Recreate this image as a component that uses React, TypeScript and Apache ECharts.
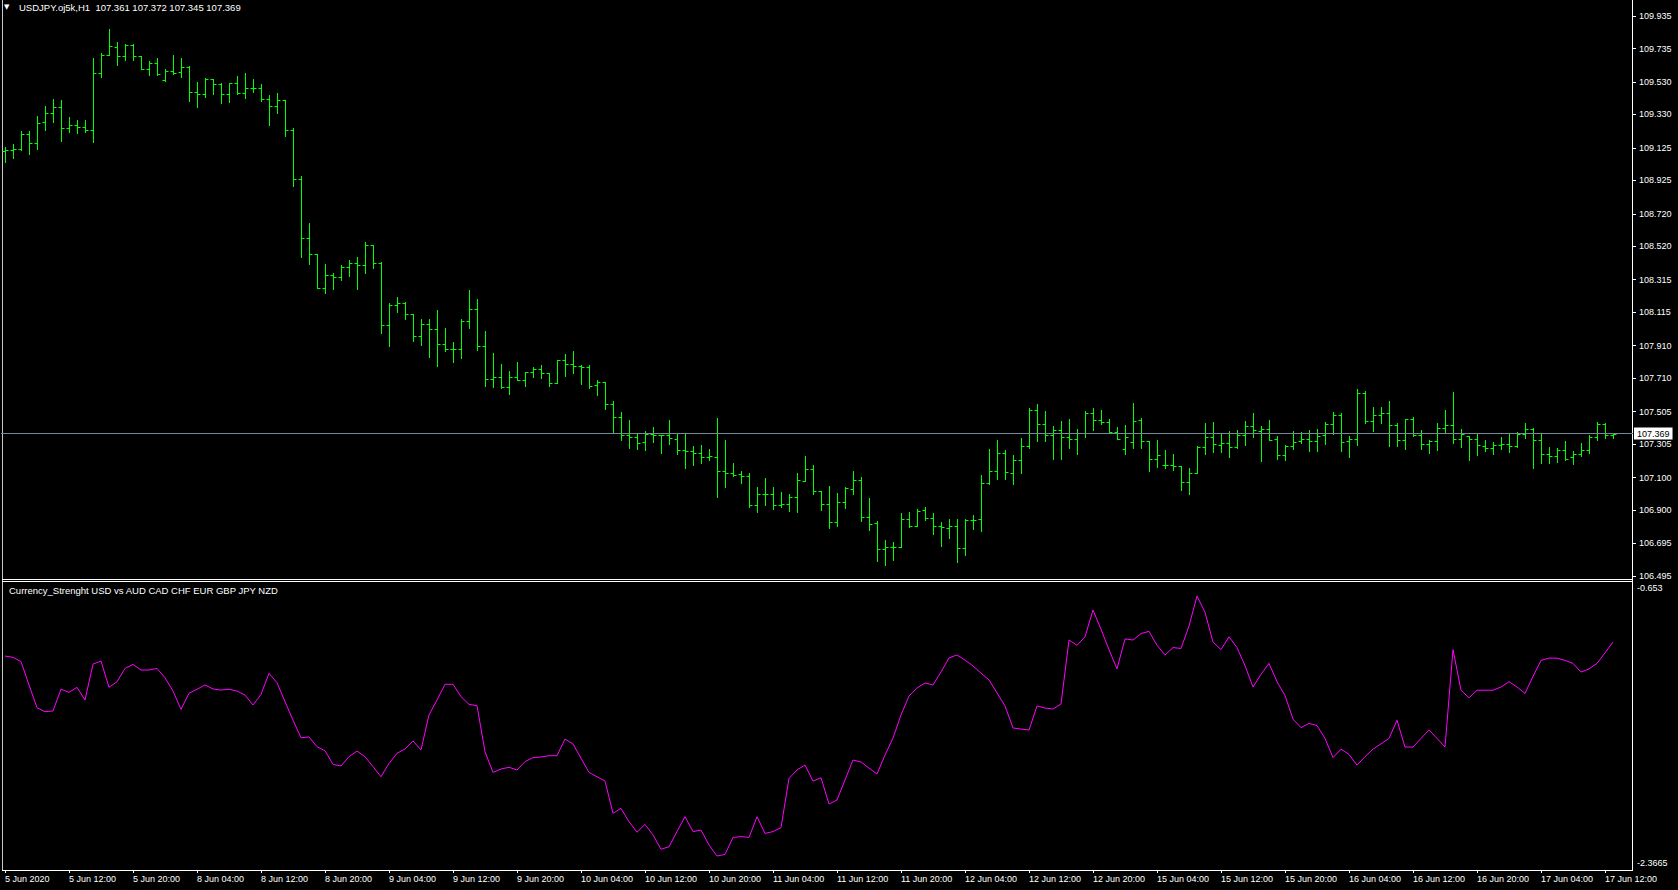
import React, { useEffect, useRef } from "react";
import * as echarts from "echarts";

const SYMBOL_TITLE = "USDJPY.oj5k,H1  107.361 107.372 107.345 107.369";
const INDICATOR_TITLE = "Currency_Strenght USD vs AUD CAD CHF EUR GBP JPY NZD";
const START_TIME = Date.UTC(2020, 5, 5, 4);
const SLOT_COUNT = 204;
const CURRENT_PRICE = 107.369;

const OPEN = [
  109.108, 109.112, 109.116, 109.210, 109.153, 109.282, 109.337, 109.374, 109.245, 109.263,
  109.251, 109.233, 109.583, 109.695, 109.742, 109.687, 109.757, 109.687, 109.612, 109.644,
  109.540, 109.599, 109.589, 109.622, 109.468, 109.456, 109.548, 109.515, 109.456, 109.523,
  109.460, 109.491, 109.491, 109.423, 109.384, 109.417, 109.235, 108.932, 108.569, 108.471,
  108.266, 108.342, 108.330, 108.391, 108.416, 108.403, 108.526, 108.420, 108.037, 108.158,
  108.174, 108.105, 107.967, 108.043, 108.010, 107.918, 107.888, 107.888, 108.060, 108.133,
  107.910, 107.703, 107.716, 107.658, 107.716, 107.697, 107.746, 107.767, 107.740, 107.679,
  107.822, 107.795, 107.783, 107.779, 107.666, 107.687, 107.550, 107.472, 107.361, 107.347,
  107.316, 107.370, 107.359, 107.359, 107.335, 107.267, 107.261, 107.251, 107.224, 107.224,
  107.138, 107.126, 107.120, 107.107, 106.929, 106.997, 106.997, 106.929, 106.935, 106.981,
  107.077, 107.152, 107.015, 106.935, 106.825, 106.948, 107.028, 107.083, 106.856, 106.819,
  106.659, 106.671, 106.671, 106.843, 106.802, 106.898, 106.851, 106.802, 106.790, 106.802,
  106.665, 106.837, 106.843, 107.064, 107.140, 107.251, 107.126, 107.206, 107.292, 107.513,
  107.429, 107.361, 107.392, 107.347, 107.335, 107.372, 107.494, 107.451, 107.439, 107.378,
  107.273, 107.316, 107.451, 107.322, 107.212, 107.179, 107.175, 107.171, 107.071, 107.126,
  107.286, 107.347, 107.298, 107.310, 107.286, 107.359, 107.415, 107.384, 107.396, 107.335,
  107.236, 107.292, 107.325, 107.335, 107.322, 107.359, 107.429, 107.482, 107.325, 107.335,
  107.617, 107.445, 107.484, 107.494, 107.421, 107.329, 107.460, 107.359, 107.306, 107.322,
  107.402, 107.423, 107.335, 107.355, 107.335, 107.292, 107.279, 107.298, 107.304, 107.292,
  107.368, 107.396, 107.329, 107.243, 107.230, 107.267, 107.224, 107.243, 107.267, 107.347,
  107.429, 107.361,
];

const HIGH = [
  109.132, 109.149, 109.229, 109.229, 109.321, 109.382, 109.425, 109.419, 109.315, 109.296,
  109.296, 109.677, 109.708, 109.855, 109.775, 109.763, 109.763, 109.689, 109.657, 109.677,
  109.607, 109.698, 109.677, 109.626, 109.530, 109.552, 109.548, 109.521, 109.523, 109.566,
  109.585, 109.548, 109.517, 109.448, 109.462, 109.419, 109.245, 108.952, 108.664, 108.471,
  108.412, 108.354, 108.406, 108.436, 108.455, 108.547, 108.526, 108.424, 108.174, 108.209,
  108.176, 108.105, 108.072, 108.072, 108.129, 108.017, 107.933, 108.074, 108.252, 108.197,
  108.000, 107.865, 107.797, 107.754, 107.810, 107.748, 107.777, 107.791, 107.744, 107.822,
  107.859, 107.877, 107.789, 107.791, 107.699, 107.687, 107.570, 107.503, 107.453, 107.365,
  107.386, 107.412, 107.361, 107.453, 107.365, 107.365, 107.294, 107.300, 107.275, 107.466,
  107.331, 107.189, 107.140, 107.128, 107.042, 107.097, 107.042, 107.011, 106.997, 107.128,
  107.232, 107.177, 107.017, 107.048, 107.005, 107.042, 107.142, 107.103, 106.974, 106.831,
  106.716, 106.704, 106.882, 106.888, 106.907, 106.919, 106.882, 106.827, 106.843, 106.847,
  106.843, 106.870, 107.116, 107.277, 107.331, 107.271, 107.238, 107.343, 107.527, 107.552,
  107.509, 107.417, 107.447, 107.460, 107.398, 107.509, 107.527, 107.515, 107.460, 107.408,
  107.421, 107.558, 107.466, 107.322, 107.331, 107.267, 107.245, 107.171, 107.159, 107.292,
  107.437, 107.441, 107.365, 107.384, 107.392, 107.447, 107.496, 107.417, 107.454, 107.355,
  107.298, 107.386, 107.380, 107.392, 107.396, 107.443, 107.503, 107.496, 107.353, 107.644,
  107.634, 107.533, 107.533, 107.570, 107.435, 107.460, 107.472, 107.392, 107.329, 107.435,
  107.515, 107.626, 107.398, 107.355, 107.365, 107.331, 107.318, 107.349, 107.365, 107.380,
  107.435, 107.402, 107.374, 107.286, 107.279, 107.325, 107.263, 107.312, 107.359, 107.441,
  107.433, 107.372,
];

const LOW = [
  109.040, 109.065, 109.112, 109.087, 109.120, 109.235, 109.286, 109.169, 109.225, 109.218,
  109.225, 109.163, 109.562, 109.695, 109.636, 109.665, 109.665, 109.607, 109.575, 109.575,
  109.538, 109.579, 109.562, 109.415, 109.378, 109.440, 109.458, 109.403, 109.409, 109.456,
  109.433, 109.468, 109.411, 109.268, 109.337, 109.200, 108.893, 108.457, 108.410, 108.262,
  108.231, 108.256, 108.313, 108.340, 108.256, 108.354, 108.385, 107.986, 107.910, 108.119,
  108.072, 107.941, 107.916, 107.842, 107.787, 107.875, 107.812, 107.836, 108.021, 107.885,
  107.664, 107.658, 107.648, 107.615, 107.697, 107.664, 107.720, 107.709, 107.664, 107.679,
  107.726, 107.744, 107.677, 107.652, 107.609, 107.523, 107.382, 107.333, 107.283, 107.277,
  107.271, 107.320, 107.253, 107.308, 107.247, 107.161, 107.179, 107.191, 107.210, 106.983,
  107.044, 107.112, 107.069, 106.917, 106.890, 106.933, 106.909, 106.919, 106.892, 106.890,
  107.077, 107.001, 106.903, 106.792, 106.800, 106.915, 107.001, 106.835, 106.780, 106.589,
  106.565, 106.596, 106.671, 106.794, 106.800, 106.841, 106.755, 106.682, 106.731, 106.583,
  106.626, 106.786, 106.774, 107.062, 107.093, 107.093, 107.062, 107.130, 107.281, 107.326,
  107.326, 107.216, 107.212, 107.283, 107.247, 107.351, 107.394, 107.427, 107.378, 107.335,
  107.247, 107.283, 107.283, 107.142, 107.165, 107.157, 107.144, 107.026, 106.997, 107.126,
  107.247, 107.255, 107.255, 107.228, 107.279, 107.302, 107.351, 107.204, 107.329, 107.216,
  107.210, 107.277, 107.314, 107.265, 107.265, 107.308, 107.368, 107.265, 107.228, 107.302,
  107.433, 107.388, 107.437, 107.296, 107.296, 107.277, 107.353, 107.277, 107.253, 107.269,
  107.372, 107.314, 107.290, 107.210, 107.241, 107.265, 107.247, 107.277, 107.259, 107.290,
  107.345, 107.161, 107.191, 107.191, 107.198, 107.210, 107.185, 107.234, 107.253, 107.333,
  107.341, 107.345,
];

const CLOSE = [
  109.112, 109.118, 109.210, 109.153, 109.276, 109.337, 109.374, 109.245, 109.263, 109.255,
  109.233, 109.583, 109.695, 109.749, 109.687, 109.757, 109.687, 109.612, 109.644, 109.579,
  109.599, 109.587, 109.620, 109.468, 109.456, 109.548, 109.515, 109.456, 109.521, 109.460,
  109.491, 109.491, 109.423, 109.384, 109.419, 109.235, 108.932, 108.569, 108.471, 108.266,
  108.342, 108.330, 108.395, 108.416, 108.403, 108.526, 108.420, 108.037, 108.158, 108.170,
  108.103, 107.967, 108.043, 108.010, 107.918, 107.888, 107.892, 108.060, 108.133, 107.910,
  107.703, 107.716, 107.658, 107.716, 107.697, 107.746, 107.767, 107.740, 107.683, 107.822,
  107.795, 107.783, 107.779, 107.664, 107.687, 107.550, 107.472, 107.361, 107.347, 107.312,
  107.370, 107.363, 107.359, 107.341, 107.267, 107.261, 107.251, 107.224, 107.230, 107.138,
  107.126, 107.114, 107.107, 106.929, 106.997, 106.997, 106.929, 106.935, 106.981, 107.083,
  107.152, 107.015, 106.935, 106.825, 106.948, 107.038, 107.085, 106.856, 106.813, 106.659,
  106.671, 106.671, 106.843, 106.802, 106.894, 106.851, 106.802, 106.796, 106.802, 106.665,
  106.839, 106.837, 107.064, 107.140, 107.251, 107.132, 107.206, 107.292, 107.513, 107.429,
  107.359, 107.392, 107.347, 107.335, 107.372, 107.494, 107.451, 107.439, 107.378, 107.335,
  107.349, 107.445, 107.322, 107.212, 107.236, 107.175, 107.171, 107.071, 107.126, 107.286,
  107.347, 107.304, 107.310, 107.286, 107.359, 107.415, 107.390, 107.396, 107.333, 107.236,
  107.292, 107.316, 107.335, 107.322, 107.353, 107.429, 107.482, 107.318, 107.335, 107.617,
  107.445, 107.484, 107.494, 107.421, 107.329, 107.458, 107.359, 107.306, 107.322, 107.402,
  107.423, 107.335, 107.368, 107.335, 107.298, 107.279, 107.298, 107.304, 107.292, 107.368,
  107.396, 107.329, 107.243, 107.230, 107.267, 107.216, 107.243, 107.267, 107.347, 107.429,
  107.359, 107.369,
];

const STRENGTH = [
  -1.077, -1.085, -1.112, -1.257, -1.399, -1.424, -1.419, -1.284, -1.303, -1.272,
  -1.351, -1.127, -1.108, -1.272, -1.237, -1.154, -1.129, -1.164, -1.164, -1.154,
  -1.212, -1.295, -1.409, -1.309, -1.284, -1.257, -1.282, -1.289, -1.284, -1.295,
  -1.320, -1.382, -1.316, -1.185, -1.243, -1.361, -1.476, -1.586, -1.581, -1.642,
  -1.667, -1.752, -1.762, -1.704, -1.669, -1.704, -1.766, -1.829, -1.746, -1.683,
  -1.656, -1.606, -1.662, -1.444, -1.351, -1.253, -1.253, -1.330, -1.378, -1.386,
  -1.673, -1.802, -1.781, -1.770, -1.787, -1.735, -1.710, -1.706, -1.698, -1.698,
  -1.594, -1.625, -1.714, -1.802, -1.829, -1.856, -2.057, -2.026, -2.109, -2.175,
  -2.126, -2.192, -2.281, -2.265, -2.171, -2.078, -2.171, -2.161, -2.254, -2.323,
  -2.313, -2.207, -2.202, -2.207, -2.078, -2.182, -2.171, -2.146, -1.839, -1.787,
  -1.756, -1.856, -1.835, -1.999, -1.974, -1.849, -1.725, -1.737, -1.775, -1.812,
  -1.694, -1.588, -1.444, -1.326, -1.276, -1.245, -1.257, -1.176, -1.089, -1.070,
  -1.102, -1.139, -1.183, -1.226, -1.307, -1.388, -1.525, -1.532, -1.538, -1.388,
  -1.401, -1.407, -1.376, -0.977, -1.010, -0.957, -0.790, -0.910, -1.037, -1.157,
  -0.970, -0.977, -0.937, -0.923, -1.010, -1.070, -1.024, -1.030, -0.890, -0.703,
  -0.804, -0.990, -1.037, -0.957, -1.024, -1.137, -1.270, -1.190, -1.123, -1.237,
  -1.323, -1.470, -1.523, -1.497, -1.510, -1.590, -1.710, -1.657, -1.690, -1.757,
  -1.704, -1.657, -1.624, -1.590, -1.477, -1.644, -1.644, -1.590, -1.537, -1.590,
  -1.644, -1.037, -1.290, -1.337, -1.290, -1.290, -1.290, -1.270, -1.237, -1.270,
  -1.310, -1.204, -1.104, -1.090, -1.090, -1.104, -1.123, -1.177, -1.157, -1.123,
  -1.057, -0.990,
];

const PRICE_TICKS = [
  109.935, 109.735, 109.53, 109.33, 109.125, 108.925, 108.72, 108.52, 108.315,
  108.115, 107.91, 107.71, 107.505, 107.305, 107.1, 106.9, 106.695, 106.495,
];
const STRENGTH_TICKS = [-0.653, -2.3665];

const MONTHS = ["Jan", "Feb", "Mar", "Apr", "May", "Jun", "Jul", "Aug", "Sep", "Oct", "Nov", "Dec"];

function buildTimeLabels(n: number): string[] {
  const out: string[] = [];
  let t = START_TIME;
  while (out.length < n) {
    const d = new Date(t);
    const wd = d.getUTCDay();
    if (wd !== 0 && wd !== 6) {
      const day = d.getUTCDate();
      const mon = MONTHS[d.getUTCMonth()];
      if (out.length === 0) out.push(`${day} ${mon} ${d.getUTCFullYear()}`);
      else out.push(`${day} ${mon} ${String(d.getUTCHours()).padStart(2, "0")}:00`);
    }
    t += 3600000;
  }
  return out;
}

const TIME_LABELS = buildTimeLabels(SLOT_COUNT);

const FONT = "Liberation Sans, Arial, sans-serif";
const BAR_COLOR = "#00ff00";
const FG = "#ffffff";

export default function App() {
  const ref = useRef<HTMLDivElement>(null);

  useEffect(() => {
    if (!ref.current) return;
    const chart = echarts.init(ref.current, undefined, { renderer: "svg" });
    const ohlc = OPEN.map((o, i) => [i, o, HIGH[i], LOW[i], CLOSE[i]]);
    const snap = (v: number) => Math.round(v) + 0.5;

    const labelInterval = (index: number) => index % 8 === 0;

    chart.setOption({
      animation: false,
      backgroundColor: "#000000",
      title: [
        { text: "\u25BC", left: 4, top: 3, padding: 0, textStyle: { color: FG, fontSize: 7, fontWeight: "normal", fontFamily: "DejaVu Sans" } },
        { text: SYMBOL_TITLE, left: 19, top: 2, padding: 0, textStyle: { color: FG, fontSize: 9.5, fontWeight: "normal", fontFamily: FONT } },
        { text: INDICATOR_TITLE, left: 9, top: 585, padding: 0, textStyle: { color: FG, fontSize: 9.5, fontWeight: "normal", fontFamily: FONT } },
      ],
      grid: [
        { left: 1, top: 0, width: 1632, height: 580 },
        { left: 1, top: 583, width: 1632, height: 287 },
      ],
      xAxis: [
        {
          gridIndex: 0, type: "category", data: TIME_LABELS, boundaryGap: true,
          axisLine: { show: false }, axisTick: { show: false }, axisLabel: { show: false }, splitLine: { show: false },
        },
        {
          gridIndex: 1, type: "category", data: TIME_LABELS, boundaryGap: true,
          axisLine: { show: false }, splitLine: { show: false },
          axisTick: { show: true, interval: labelInterval, alignWithLabel: true, length: 3, lineStyle: { color: FG, width: 1 } },
          axisLabel: {
            show: true, interval: labelInterval, align: "left", margin: 4,
            color: FG, fontSize: 9, fontFamily: FONT,
          },
        },
      ],
      yAxis: [
        {
          gridIndex: 0, type: "value", position: "right", min: 106.4706, max: 110.0333, scale: true,
          axisLine: { show: false }, splitLine: { show: false },
          axisTick: { show: true, length: 3, customValues: PRICE_TICKS, lineStyle: { color: FG } },
          axisLabel: { show: true, customValues: PRICE_TICKS, margin: 6, color: FG, fontSize: 9, fontFamily: FONT, formatter: (v: number) => v.toFixed(3) },
        },
        {
          gridIndex: 1, type: "value", position: "right", min: -2.4101, max: -0.6218, scale: true,
          axisLine: { show: false }, splitLine: { show: false },
          axisTick: { show: false },
          axisLabel: { show: true, customValues: STRENGTH_TICKS, margin: 4, color: FG, fontSize: 9, fontFamily: FONT, formatter: (v: number) => String(v) },
        },
      ],
      series: [
        {
          type: "custom",
          xAxisIndex: 0, yAxisIndex: 0,
          data: ohlc,
          encode: { x: 0, y: [1, 2, 3, 4] },
          clip: true,
          renderItem: (params: any, api: any) => {
            const i = api.value(0);
            const o = api.coord([i, api.value(1)]);
            const h = api.coord([i, api.value(2)]);
            const l = api.coord([i, api.value(3)]);
            const c = api.coord([i, api.value(4)]);
            const x = snap(o[0]);
            const style = { stroke: BAR_COLOR, lineWidth: 1, fill: null };
            return {
              type: "group",
              children: [
                { type: "line", shape: { x1: x, y1: Math.round(h[1]), x2: x, y2: Math.round(l[1]) + 1 }, style },
                { type: "line", shape: { x1: x - 3, y1: snap(o[1]), x2: x, y2: snap(o[1]) }, style },
                { type: "line", shape: { x1: x, y1: snap(c[1]), x2: x + 3, y2: snap(c[1]) }, style },
              ],
            };
          },
          markLine: {
            silent: true,
            symbol: ["none", "none"],
            animation: false,
            lineStyle: { color: "#778899", width: 1, type: "solid" },
            label: {
              show: true, position: "end", distance: 1,
              formatter: () => CURRENT_PRICE.toFixed(3),
              backgroundColor: "#ffffff", color: "#000000", fontSize: 9, fontFamily: FONT,
              padding: [2, 3, 1, 3],
            },
            emphasis: { disabled: true },
            data: [{ yAxis: CURRENT_PRICE }],
          },
        },
        {
          type: "line",
          xAxisIndex: 1, yAxisIndex: 1,
          data: STRENGTH,
          showSymbol: false,
          symbol: "none",
          lineStyle: { color: "#ff00ff", width: 1 },
          emphasis: { disabled: true },
        },
      ],
      graphic: [
        { type: "line", silent: true, shape: { x1: 2.5, y1: 0, x2: 2.5, y2: 871 }, style: { stroke: "#c8c8c8", lineWidth: 1 } },
        { type: "line", silent: true, shape: { x1: 1632.5, y1: 0, x2: 1632.5, y2: 871 }, style: { stroke: FG, lineWidth: 1 } },
        { type: "line", silent: true, shape: { x1: 2, y1: 579.5, x2: 1633, y2: 579.5 }, style: { stroke: FG, lineWidth: 1 } },
        { type: "line", silent: true, shape: { x1: 2, y1: 581.5, x2: 1633, y2: 581.5 }, style: { stroke: FG, lineWidth: 1 } },
        { type: "line", silent: true, shape: { x1: 2, y1: 870.5, x2: 1633, y2: 870.5 }, style: { stroke: FG, lineWidth: 1 } },
      ],
    });

    return () => chart.dispose();
  }, []);

  return (
    <div style={{ position: "fixed", left: 0, top: 0, width: 1678, height: 890, background: "#000" }}>
      <div ref={ref} style={{ width: 1678, height: 890 }} />
    </div>
  );
}
